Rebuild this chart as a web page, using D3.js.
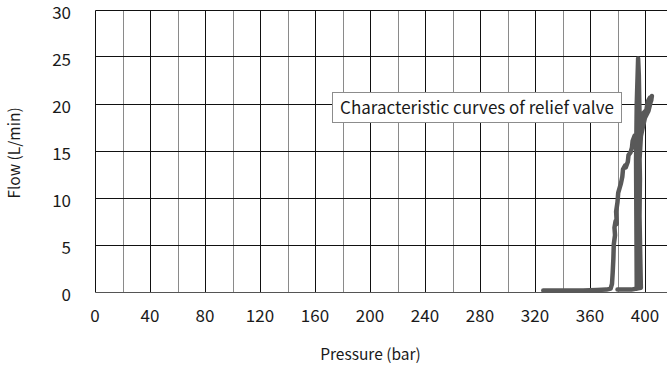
<!DOCTYPE html>
<html>
<head>
<meta charset="utf-8">
<script src="https://cdn.jsdelivr.net/npm/d3@7"></script>
<style>
  body { margin: 0; background: #fff; }
  svg { display: block; }
  text { font-family: "Noto Sans CJK JP", "Noto Sans", sans-serif; fill: #1a1a1a; }
</style>
</head>
<body>
<div id="chart"></div>
<script>
// pressure ticks (labelled) and flow ticks
const xTicks = [0, 40, 80, 120, 160, 200, 240, 280, 320, 360, 400];
const xMinor = [20, 60, 100, 140, 180, 220, 260, 300, 340, 380, 420];
const yTicks = [0, 5, 10, 15, 20, 25, 30];

const pressure = [326, 335, 345, 355, 365, 372, 375, 376, 376.5, 377, 377.3, 378.2, 377.8, 378.6, 379.5, 379, 380, 380.5, 381.5, 382.5, 383.5, 384, 385.5, 386, 387.5, 388, 389.5, 390.5, 391, 392.5, 393, 394.5, 396, 398, 399, 401, 402, 403.5, 404.5, 405, 404,
  402.5, 400, 398, 397, 396.5, 396, 395.5, 395.8, 395.2, 395.5, 395, 395.3, 394.8, 394.5, 394, 393.8, 393.5, 394, 395, 395.5, 396, 395.8, 396.3, 396, 396.5, 397, 390, 380];
const flow = [0.1, 0.1, 0.1, 0.1, 0.15, 0.2, 0.3, 0.8, 2, 3.5, 5, 6, 6.8, 7.5, 7.2, 8.5, 9.5, 10.5, 11, 11.5, 12.2, 13, 13.4, 13.2, 13.8, 14.5, 14.8, 15.3, 16, 16.6, 16.2, 17.3, 17.6, 18.2, 19, 19.3, 20.2, 20.6, 20.3, 20.8, 20.1,
  19.2, 18.5, 17.2, 16.5, 15.2, 14, 13, 11.5, 10, 8.5, 7, 5, 3, 1, 0.3, 6, 14, 20, 24.8, 23, 19, 16, 12, 8, 4, 0.4, 0.2, 0.2];

const width = 667, height = 372;
const svg = d3.select('#chart').append('svg')
  .attr('width', width)
  .attr('height', height);

const x = d3.scaleLinear().domain([0, 420]).range([95, 672.5]);
const y = d3.scaleLinear().domain([0, 30]).range([291.5, 9.5]);
const px = v => Math.round(x(v)) + 0.5;
const py = v => Math.round(y(v)) + 0.5;

// minor vertical grid (gray)
svg.append('g').selectAll('line').data(xMinor).enter().append('line')
  .attr('x1', d => px(d)).attr('x2', d => px(d))
  .attr('y1', py(30)).attr('y2', py(0))
  .attr('stroke', '#8a8a8a').attr('stroke-width', 1);

// major vertical grid (black)
svg.append('g').selectAll('line').data(xTicks).enter().append('line')
  .attr('x1', d => px(d)).attr('x2', d => px(d))
  .attr('y1', py(30)).attr('y2', py(0))
  .attr('stroke', '#111').attr('stroke-width', 1);

// horizontal grid
svg.append('g').selectAll('line').data(yTicks).enter().append('line')
  .attr('x1', px(0)).attr('x2', x(420))
  .attr('y1', d => py(d)).attr('y2', d => py(d))
  .attr('stroke', d => d === 0 ? '#555' : '#111').attr('stroke-width', 1);

// legend box
const box = svg.append('g');
box.append('rect')
  .attr('x', 332.5).attr('y', 92.5).attr('width', 289).attr('height', 30)
  .attr('fill', '#fff').attr('stroke', '#8c8c8c').attr('stroke-width', 1);
box.append('text')
  .attr('x', 477).attr('y', 114)
  .attr('text-anchor', 'middle')
  .style('font-size', '17px')
  .text('Characteristic curves of relief valve');

// trace
const pts = pressure.map((p, i) => [p, flow[i]]);
const line = d3.line().x(d => x(d[0])).y(d => y(d[1]));
svg.append('path')
  .datum(pts)
  .attr('d', line)
  .attr('fill', 'none')
  .attr('stroke', '#595959')
  .attr('stroke-width', 4.5)
  .attr('stroke-linejoin', 'round')
  .attr('stroke-linecap', 'round');

// tick labels
svg.append('g').selectAll('text').data(xTicks).enter().append('text')
  .attr('x', d => x(d)).attr('y', 322)
  .attr('text-anchor', 'middle')
  .style('font-size', '17px')
  .text(d => d);

svg.append('g').selectAll('text').data(yTicks).enter().append('text')
  .attr('x', 71).attr('y', d => y(d) + 9.5)
  .attr('text-anchor', 'end')
  .style('font-size', '17px')
  .text(d => d);

// axis titles
svg.append('text')
  .attr('x', 370.5).attr('y', 360)
  .attr('text-anchor', 'middle')
  .style('font-size', '15.5px')
  .text('Pressure (bar)');

svg.append('text')
  .attr('transform', 'translate(20,153) rotate(-90)')
  .attr('text-anchor', 'middle')
  .style('font-size', '15.5px')
  .text('Flow (L/min)');
</script>
</body>
</html>
